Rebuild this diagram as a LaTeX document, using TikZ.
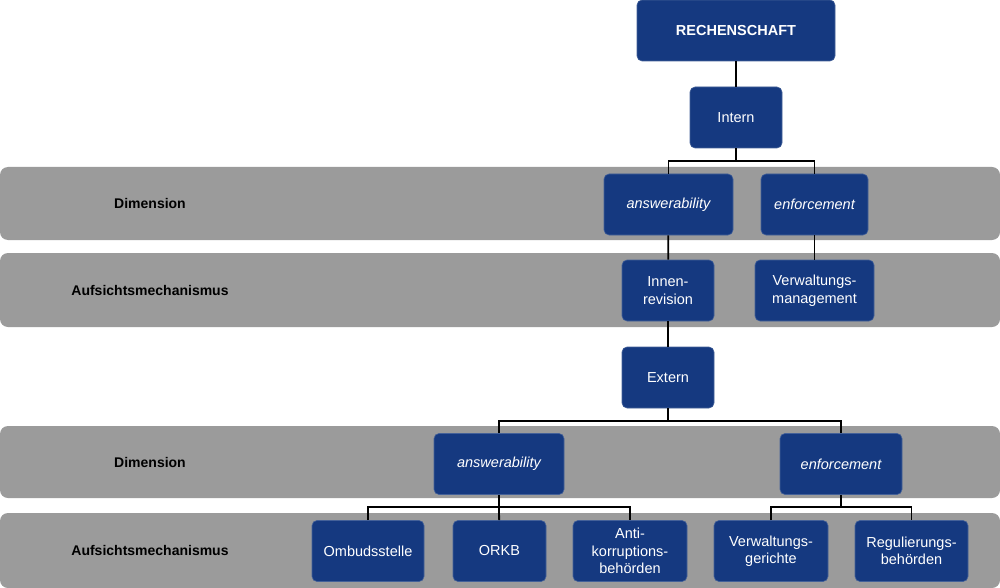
\documentclass[tikz,border=0pt]{standalone}
\usepackage{fontspec}
\setmainfont{Liberation Sans}
\usetikzlibrary{calc}

\definecolor{boxblue}{RGB}{21,57,128}
\definecolor{bandgray}{RGB}{155,155,155}

\tikzset{
	band/.style={fill=bandgray, rounded corners=8pt},
	bandtext/.style={font=\fontsize{14}{17}\selectfont\bfseries, text=black},
	org/.style={fill=boxblue, draw=boxblue!80!white, line width=0.6pt, rounded corners=5pt,
		text=white, align=center, inner sep=0pt, minimum height=61pt,
		font=\fontsize{14.5}{17.5}\selectfont},
	link/.style={line width=1.8pt, black}
}

\begin{document}
\begin{tikzpicture}[x=1pt,y=-1pt]
				\useasboundingbox (0,0) rectangle (1000,588);
				
				% grey bands
				\path [band] (0,167) rectangle (1000,240);
				\path [band] (0,253) rectangle (1000,327);
				\path [band] (0,426) rectangle (1000,498);
				\path [band] (0,513) rectangle (1000,588);
				
				\node [bandtext] (dimI) at (150,203) {Dimension};
				\node [bandtext] (aufI) at (150,290) {Aufsichtsmechanismus};
				\node [bandtext] (dimE) at (150,462) {Dimension};
				\node [bandtext] (aufE) at (150,550) {Aufsichtsmechanismus};
				
				% internal branch
				\node [org, minimum width=198pt, font=\fontsize{14.5}{17.5}\selectfont\bfseries] (rech) at (736,30.5) {RECHENSCHAFT};
				\node [org, minimum width=92pt] (intern) at (736,117.5) {Intern};
				\node [org, minimum width=129pt] (ansI) at (668.5,204.5) {\itshape answerability};
				\node [org, minimum width=107pt] (enfI) at (814.5,204.5) {\itshape enforcement};
				\node [org, minimum width=92pt] (innen) at (668,290.5) {Innen-\\revision};
				\node [org, minimum width=119pt] (verwm) at (814.5,290.5) {Verwaltungs-\\management};
				
				% external branch
				\node [org, minimum width=92pt] (extern) at (668,377.5) {Extern};
				\node [org, minimum width=130pt] (ansE) at (499,464) {\itshape answerability};
				\node [org, minimum width=122pt] (enfE) at (841,464) {\itshape enforcement};
				\node [org, minimum width=112pt] (ombud) at (368,551) {Ombudsstelle};
				\node [org, minimum width=93pt] (orkb) at (499.5,551) {ORKB};
				\node [org, minimum width=114pt] (anti) at (630,551) {Anti-\\korruptions-\\behörden};
				\node [org, minimum width=114pt] (verwg) at (771,551) {Verwaltungs-\\gerichte};
				\node [org, minimum width=113pt] (regul) at (911.5,551) {Regulierungs-\\behörden};
				
				% connectors
				\draw [link] (rech) -- (intern);
				\draw [link] (intern.south) -- ++(0,13) coordinate (ij);
				\draw [link] (ansI.north) |- (ij) -| (enfI.north);
				\draw [link] (ansI) -- (innen);
				\draw [link] (enfI) -- (verwm);
				\draw [link] (innen) -- (extern);
				
				\draw [link] (extern.south) -- ++(0,12.5) coordinate (ej);
				\draw [link] (ansE.north) |- (ej) -| (enfE.north);
				\draw [link] (ansE.south) -- ++(0,12.5) coordinate (aj);
				\draw [link] (ombud.north) |- (aj) -| (anti.north);
				\draw [link] (aj) -- (orkb);
				\draw [link] (enfE.south) -- ++(0,12.5) coordinate (fj);
				\draw [link] (verwg.north) |- (fj) -| (regul.north);
\end{tikzpicture}
\end{document}
